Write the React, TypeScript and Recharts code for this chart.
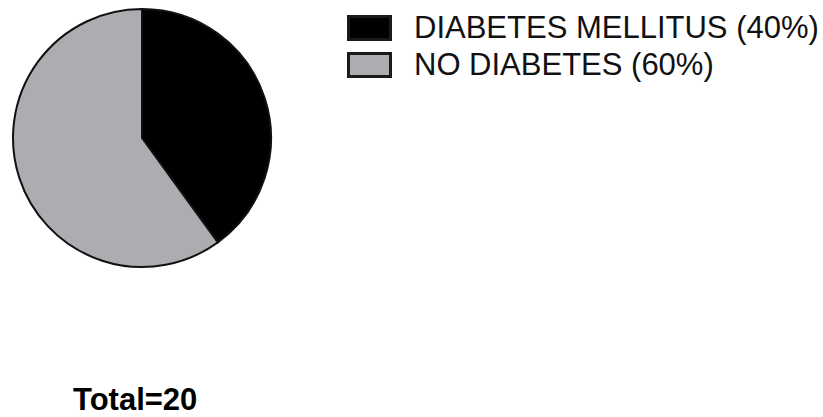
import { Cell, Pie, PieChart } from "recharts";

const labels = ["DIABETES MELLITUS", "NO DIABETES"];
const shares = [40, 60];
const fills = ["#000000", "#adadb1"];
const total = 20;

const data = labels.map((name, i) => ({ name, value: shares[i] }));

function LegendBox() {
  return (
    <div style={{ position: "absolute", left: 347, top: 15 }}>
      {data.map((d, i) => (
        <div
          key={d.name}
          style={{ display: "flex", alignItems: "center", height: 26, marginBottom: 11 }}
        >
          <span
            style={{
              display: "inline-block",
              boxSizing: "border-box",
              width: 45,
              height: 26,
              background: fills[i],
              border: "3px solid #1a1a1a",
              marginRight: 22,
            }}
          />
          <span style={{ fontSize: 31, color: "#111", lineHeight: "26px", whiteSpace: "nowrap" }}>
            {d.name} ({d.value}%)
          </span>
        </div>
      ))}
    </div>
  );
}

export default function App() {
  return (
    <div
      style={{
        position: "absolute",
        left: 0,
        top: 0,
        width: 823,
        height: 417,
        background: "#fff",
        fontFamily: "'Liberation Sans', Arial, sans-serif",
        overflow: "hidden",
      }}
    >
      <PieChart width={823} height={417} margin={{ top: 0, right: 0, bottom: 0, left: 0 }}>
        <Pie
          data={data}
          dataKey="value"
          nameKey="name"
          cx={142}
          cy={138}
          outerRadius={129}
          startAngle={90}
          endAngle={-270}
          stroke="#111"
          strokeWidth={2}
          isAnimationActive={false}
        >
          {data.map((d, i) => (
            <Cell key={d.name} fill={fills[i]} />
          ))}
        </Pie>
      </PieChart>
      <LegendBox />
      <div
        style={{
          position: "absolute",
          left: 73,
          top: 383,
          fontSize: 31,
          lineHeight: "34px",
          fontWeight: 700,
          color: "#000",
        }}
      >
        Total={total}
      </div>
    </div>
  );
}
